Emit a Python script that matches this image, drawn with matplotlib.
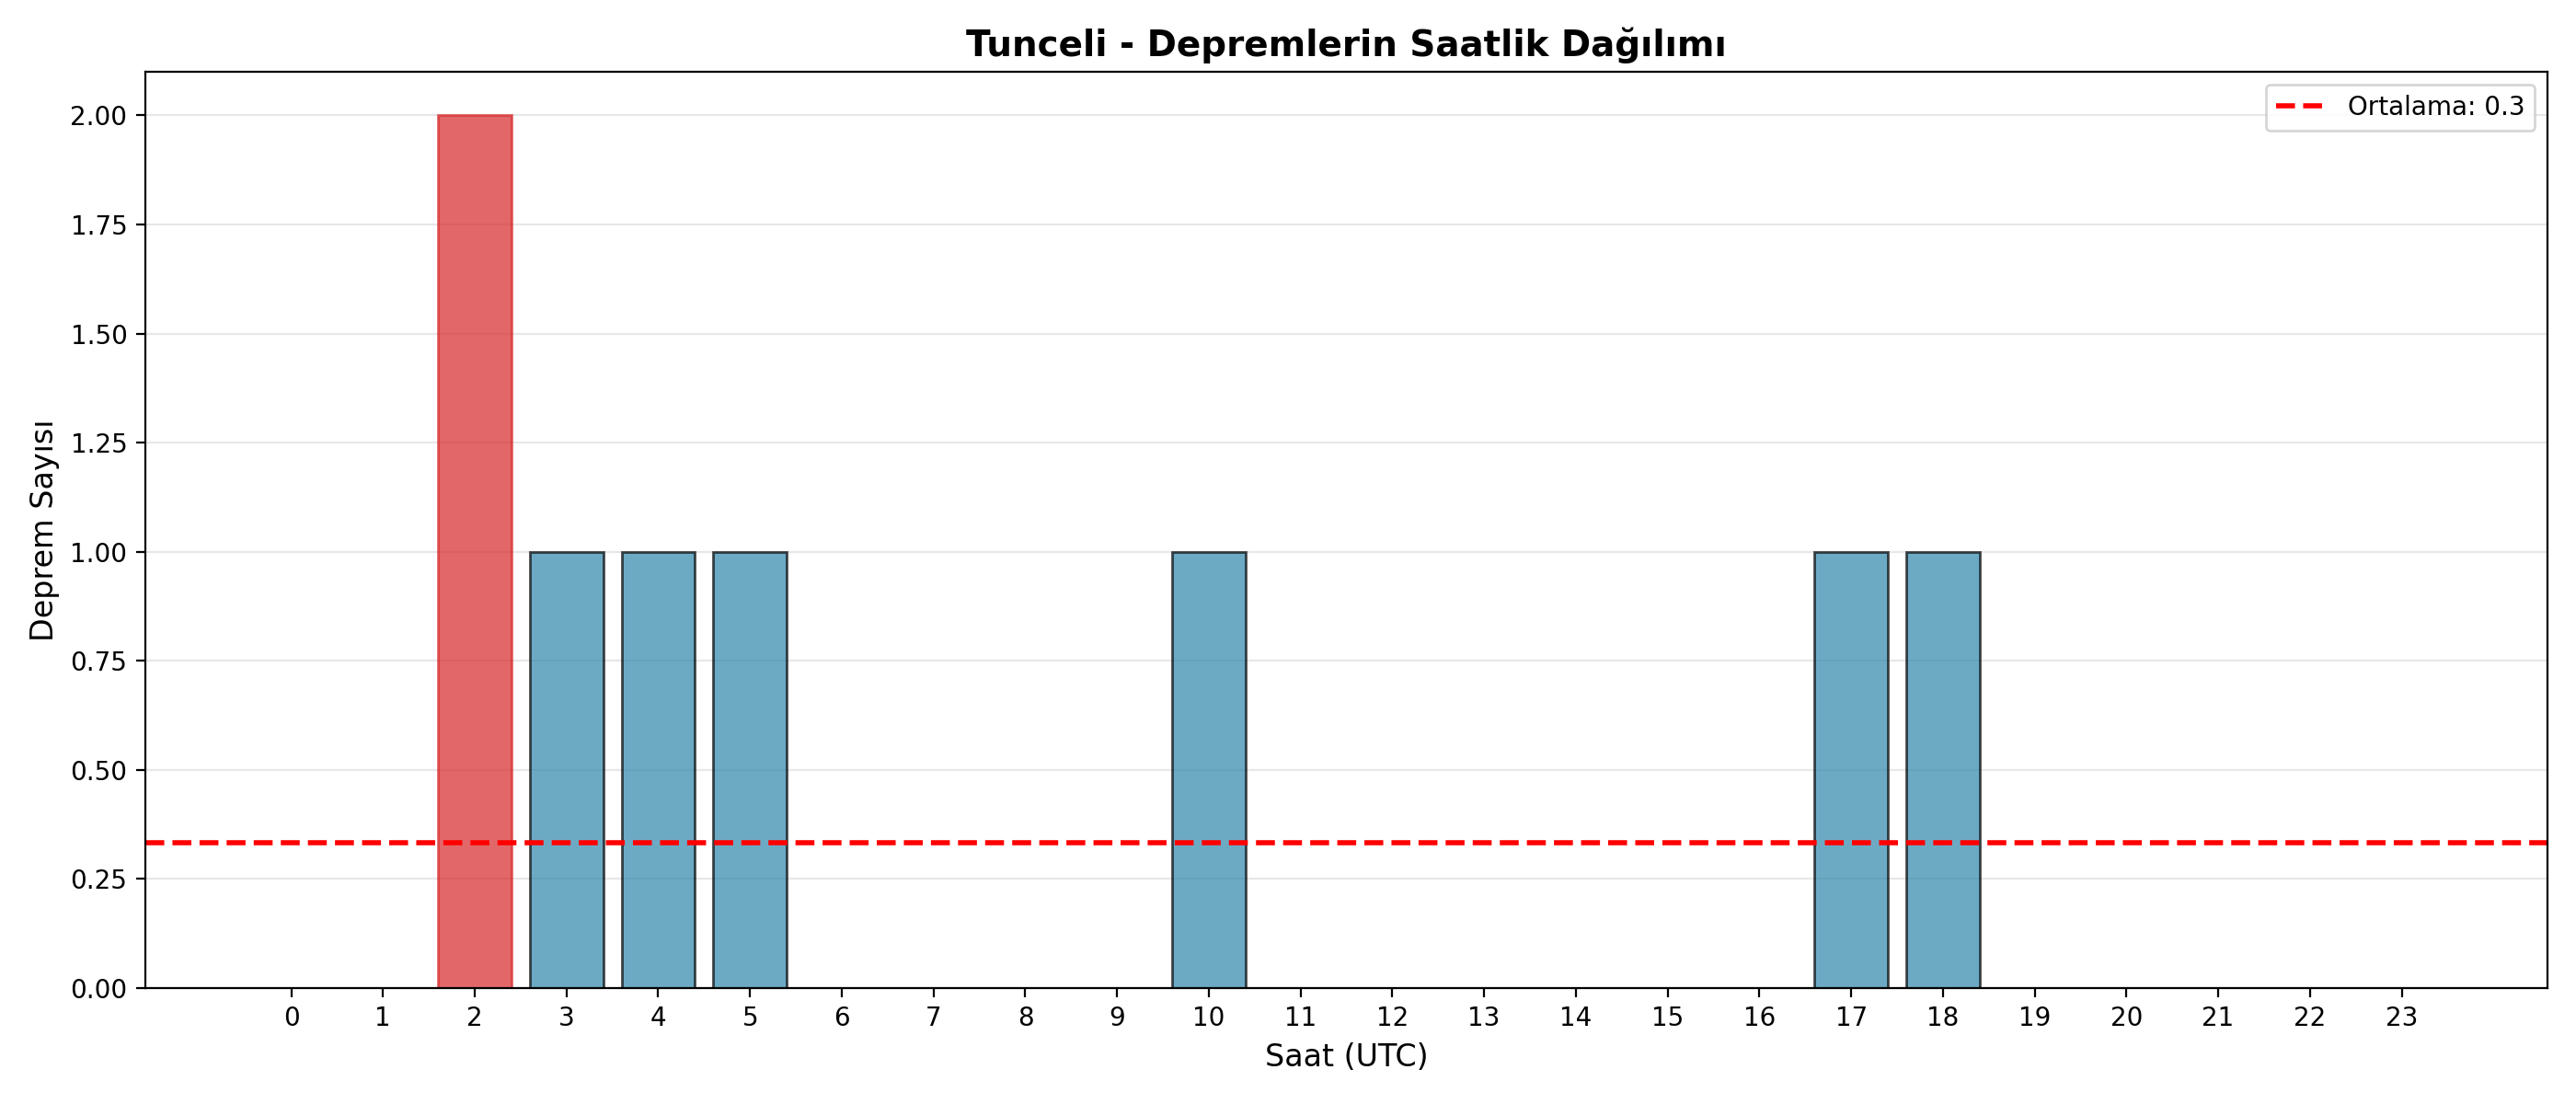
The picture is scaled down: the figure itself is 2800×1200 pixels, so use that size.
import matplotlib
matplotlib.use("Agg")
import matplotlib.pyplot as plt
import numpy as np

hours = list(range(24))
counts = [0, 0, 2, 1, 1, 1, 0, 0, 0, 0, 1, 0, 0, 0, 0, 0, 0, 1, 1, 0, 0, 0, 0, 0]
title = "Tunceli - Depremlerin Saatlik Dağılımı"
xlabel = "Saat (UTC)"
ylabel = "Deprem Sayısı"

fig, ax = plt.subplots(figsize=(14, 6), dpi=200)
bars = ax.bar(hours, counts, color="#2E86AB", alpha=0.7, edgecolor="black", width=0.8)
max_idx = int(np.argmax(counts))
bars[max_idx].set_color("#d62728")

mean_val = np.mean(counts)
ax.axhline(mean_val, color="red", linestyle="--", linewidth=2, label=f"Ortalama: {mean_val:.1f}")

ax.set_title(title, fontsize=14, fontweight="bold")
ax.set_xlabel(xlabel, fontsize=12)
ax.set_ylabel(ylabel, fontsize=12)
ax.set_xticks(hours)
ax.set_xlim(-1.59, 24.59)
ax.set_ylim(0, 2.1)
ax.grid(axis="y", alpha=0.3)
ax.set_axisbelow(True)
ax.legend(loc="upper right")

fig.subplots_adjust(left=0.0564, right=0.989, top=0.935, bottom=0.105)
fig.savefig("out.png", dpi=200)
